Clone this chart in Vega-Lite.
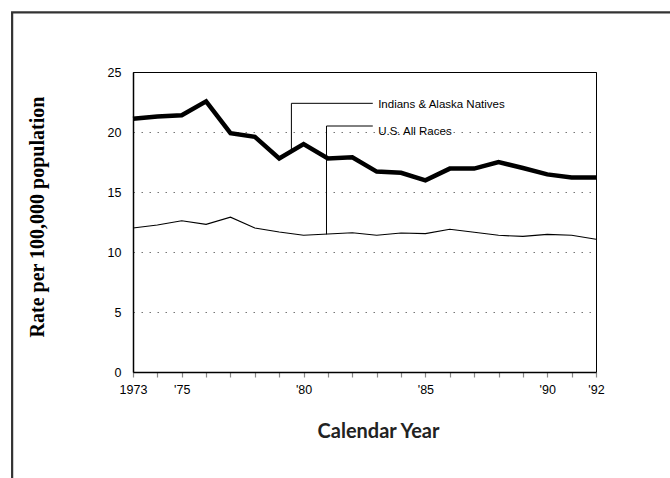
{
  "$schema": "https://vega.github.io/schema/vega-lite/v6.json",
  "width": 463,
  "height": 300,
  "autosize": {"type": "none"},
  "padding": {"left": 133, "top": 72, "right": 74, "bottom": 106},
  "background": "white",
  "config": {"view": {"stroke": "black", "strokeWidth": 1}, "font": "Liberation Sans"},
  "datasets": {
    "rates": [
      {"year": 1973, "series": "Indians & Alaska Natives", "rate": 21.1},
      {"year": 1974, "series": "Indians & Alaska Natives", "rate": 21.3},
      {"year": 1975, "series": "Indians & Alaska Natives", "rate": 21.4},
      {"year": 1976, "series": "Indians & Alaska Natives", "rate": 22.55},
      {"year": 1977, "series": "Indians & Alaska Natives", "rate": 19.9},
      {"year": 1978, "series": "Indians & Alaska Natives", "rate": 19.6},
      {"year": 1979, "series": "Indians & Alaska Natives", "rate": 17.8},
      {"year": 1980, "series": "Indians & Alaska Natives", "rate": 19.0},
      {"year": 1981, "series": "Indians & Alaska Natives", "rate": 17.8},
      {"year": 1982, "series": "Indians & Alaska Natives", "rate": 17.9},
      {"year": 1983, "series": "Indians & Alaska Natives", "rate": 16.7},
      {"year": 1984, "series": "Indians & Alaska Natives", "rate": 16.6},
      {"year": 1985, "series": "Indians & Alaska Natives", "rate": 15.97},
      {"year": 1986, "series": "Indians & Alaska Natives", "rate": 16.95},
      {"year": 1987, "series": "Indians & Alaska Natives", "rate": 16.95},
      {"year": 1988, "series": "Indians & Alaska Natives", "rate": 17.5},
      {"year": 1989, "series": "Indians & Alaska Natives", "rate": 17.0},
      {"year": 1990, "series": "Indians & Alaska Natives", "rate": 16.47},
      {"year": 1991, "series": "Indians & Alaska Natives", "rate": 16.2},
      {"year": 1992, "series": "Indians & Alaska Natives", "rate": 16.2},
      {"year": 1973, "series": "U.S. All Races", "rate": 12.0},
      {"year": 1974, "series": "U.S. All Races", "rate": 12.25},
      {"year": 1975, "series": "U.S. All Races", "rate": 12.6},
      {"year": 1976, "series": "U.S. All Races", "rate": 12.3},
      {"year": 1977, "series": "U.S. All Races", "rate": 12.9},
      {"year": 1978, "series": "U.S. All Races", "rate": 12.0},
      {"year": 1979, "series": "U.S. All Races", "rate": 11.67},
      {"year": 1980, "series": "U.S. All Races", "rate": 11.4},
      {"year": 1981, "series": "U.S. All Races", "rate": 11.5},
      {"year": 1982, "series": "U.S. All Races", "rate": 11.6},
      {"year": 1983, "series": "U.S. All Races", "rate": 11.4},
      {"year": 1984, "series": "U.S. All Races", "rate": 11.58},
      {"year": 1985, "series": "U.S. All Races", "rate": 11.53},
      {"year": 1986, "series": "U.S. All Races", "rate": 11.89},
      {"year": 1987, "series": "U.S. All Races", "rate": 11.64},
      {"year": 1988, "series": "U.S. All Races", "rate": 11.39},
      {"year": 1989, "series": "U.S. All Races", "rate": 11.3},
      {"year": 1990, "series": "U.S. All Races", "rate": 11.47},
      {"year": 1991, "series": "U.S. All Races", "rate": 11.39},
      {"year": 1992, "series": "U.S. All Races", "rate": 11.06}
    ],
    "callouts": [
      {"label": "Indians & Alaska Natives", "x": 1979.5, "yLow": 18.5, "yTop": 22.39, "xEnd": 1982.84, "xText": 1983.06, "yText": 22.25},
      {"label": "U.S. All Races", "x": 1980.94, "yLow": 11.47, "yTop": 20.5, "xEnd": 1982.84, "xText": 1983.06, "yText": 20.0}
    ]
  },
  "layer": [
    {
      "data": {"values": [{}]},
      "mark": {"type": "rect", "fillOpacity": 0, "stroke": "#333333", "strokeWidth": 2.2},
      "encoding": {
        "x": {"datum": 1968.04, "type": "quantitative"},
        "x2": {"datum": 2010},
        "y": {"datum": 29.97, "type": "quantitative"},
        "y2": {"datum": -40}
      }
    },
    {
      "data": {"name": "rates"},
      "mark": {"type": "line", "color": "black", "strokeJoin": "miter"},
      "encoding": {
        "x": {
          "field": "year", "type": "quantitative",
          "scale": {"domain": [1973, 1992], "nice": false, "zero": false},
          "axis": {
            "values": [1973, 1974, 1975, 1976, 1977, 1978, 1979, 1980, 1981, 1982, 1983, 1984, 1985, 1986, 1987, 1988, 1989, 1990, 1991, 1992],
            "tickCount": 40,
            "labelExpr": "datum.value == 1973 ? '1973' : ((datum.value % 5 == 0 || datum.value == 1992) ? \"'\" + slice(toString(datum.value), 2) : '')",
            "labelOverlap": false, "labelFlush": false, "labelBound": false,
            "labelFont": "Liberation Sans", "labelFontSize": 12.5, "labelColor": "black", "labelPadding": 6,
            "grid": false,
            "domainColor": "black", "domainWidth": 1.5,
            "tickColor": "#888888", "tickSize": 5, "tickWidth": 1.2,
            "title": "Calendar Year",
            "titleFont": "Lato", "titleFontSize": 20, "titleFontWeight": "bold", "titleColor": "#222222",
            "titleX": 245, "titleY": 65, "titleBaseline": "alphabetic"
          }
        },
        "y": {
          "field": "rate", "type": "quantitative",
          "scale": {"domain": [0, 25], "nice": false},
          "axis": {
            "values": [0, 5, 10, 15, 20, 25],
            "tickCount": 20,
            "grid": true,
            "gridColor": {"condition": {"test": "datum.value == 25", "value": "black"}, "value": "#777777"},
            "gridDash": {"condition": {"test": "datum.value == 25 || datum.value == 0", "value": []}, "value": [1.5, 6.5]},
            "gridWidth": 1,
            "ticks": false, "labelPadding": 12,
            "labelFont": "Liberation Sans", "labelFontSize": 12.5, "labelColor": "black",
            "domainColor": "black", "domainWidth": 1.5,
            "title": "Rate per 100,000 population",
            "titleFont": "Liberation Serif", "titleFontSize": 20, "titleFontWeight": "bold", "titleColor": "black",
            "titleX": -90, "titleY": 144.5, "titleAngle": 270, "titleBaseline": "alphabetic", "titleAlign": "center"
          }
        },
        "detail": {"field": "series", "type": "nominal"},
        "strokeWidth": {
          "field": "series", "type": "nominal",
          "scale": {"domain": ["Indians & Alaska Natives", "U.S. All Races"], "range": [4.5, 1.1]},
          "legend": null
        }
      }
    },
    {
      "data": {"name": "callouts"},
      "mark": {"type": "rule", "color": "black", "strokeWidth": 1},
      "encoding": {
        "x": {"field": "x", "type": "quantitative"},
        "y": {"field": "yLow", "type": "quantitative"},
        "y2": {"field": "yTop"}
      }
    },
    {
      "data": {"name": "callouts"},
      "mark": {"type": "rule", "color": "black", "strokeWidth": 1},
      "encoding": {
        "x": {"field": "x", "type": "quantitative"},
        "x2": {"field": "xEnd"},
        "y": {"field": "yTop", "type": "quantitative"}
      }
    },
    {
      "data": {"name": "callouts"},
      "mark": {"type": "text", "align": "left", "baseline": "middle", "font": "Liberation Sans", "fontSize": 11.5, "color": "black"},
      "encoding": {
        "x": {"field": "xText", "type": "quantitative"},
        "y": {"field": "yText", "type": "quantitative"},
        "text": {"field": "label"}
      }
    }
  ]
}
